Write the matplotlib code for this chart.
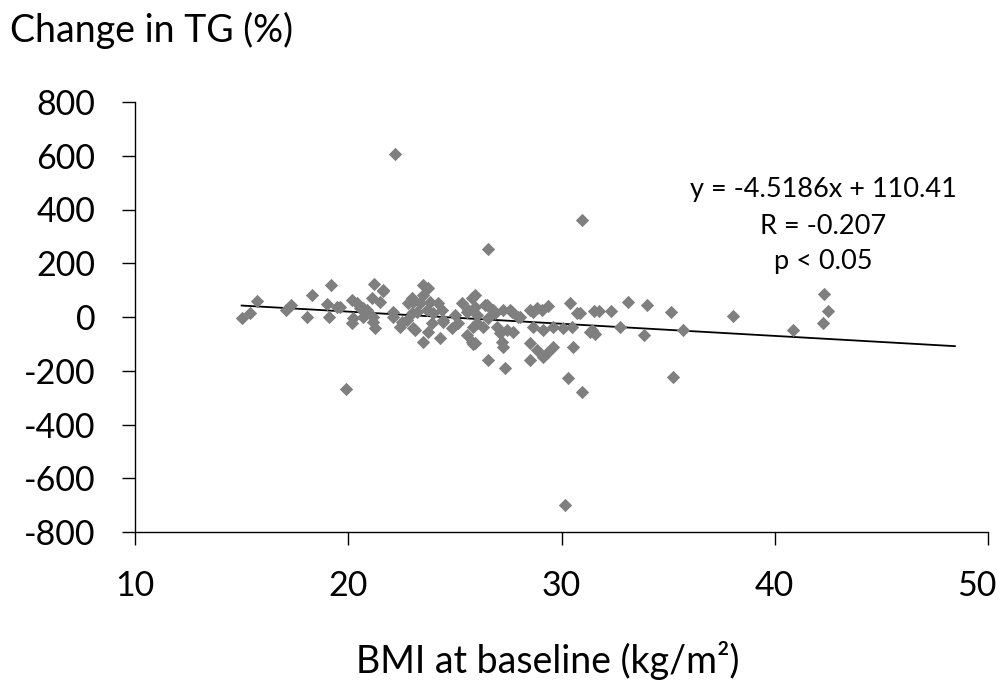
import matplotlib
matplotlib.use("Agg")
import matplotlib.pyplot as plt
import matplotlib.transforms as mtransforms
import numpy as np

plt.rcParams['font.family'] = ['Lato', 'DejaVu Sans']

bmi = [15.0, 15.4, 15.7, 17.1, 17.3, 18.05, 18.3, 18.99, 19.11, 19.2, 19.46, 19.61, 19.89,
       20.16, 20.16, 20.24, 20.4, 20.55, 20.71, 20.71, 20.86, 21.1, 21.18, 21.18, 21.22, 21.25,
       21.49, 21.64, 21.64, 22.11, 22.11, 22.2, 22.43, 22.51, 22.74, 22.82, 22.97, 22.97, 23.05,
       23.05, 23.13, 23.21, 23.36, 23.52, 23.52, 23.52, 23.68, 23.75, 23.75, 23.83, 23.91, 23.99,
       24.22, 24.3, 24.38, 24.46, 24.46, 24.85, 25.01, 25.16, 25.32, 25.55, 25.55, 25.6, 25.79,
       25.79, 25.84, 25.87, 25.94, 25.94, 25.94, 26.02, 26.02, 26.33, 26.41, 26.49, 26.57, 26.57,
       26.57, 26.8, 26.88, 26.96, 27.12, 27.2, 27.27, 27.27, 27.35, 27.43, 27.58, 27.66, 27.74,
       27.97, 28.05, 28.52, 28.52, 28.52, 28.68, 28.68, 28.84, 28.84, 29.07, 29.15, 29.15, 29.3,
       29.38, 29.62, 29.62, 30.08, 30.16, 30.32, 30.4, 30.48, 30.55, 30.71, 30.87, 30.95, 30.96,
       31.34, 31.41, 31.52, 31.57, 31.77, 32.31, 32.74, 33.1, 33.87, 33.99, 35.13, 35.24, 35.68,
       38.06, 40.87, 42.25, 42.31, 42.48]
tg = [-5, 16, 58, 26, 46, -1, 83, 48, -1, 118, 36, 38, -269,
      63, -24, -5, 51, 32, 1, 32, 26, 70, 1, -17, 123, -42,
      57, 100, 98, 1, 20, 605, -36, -17, -11, 51, 70, 14, 57,
      -42, -48, 20, 51, 119, 82, -92, 26, 107, -55, 57, -24, 14,
      51, -79, 26, -11, -17, -42, 7, -24, 51, 20, -67, 26, 70,
      -92, -100, -36, 82, 38, -98, -24, 7, -36, 45, 45, 252, -2,
      -160, 26, 14, -36, -61, -92, 26, -110, -191, -48, 26, 20, -55,
      1, 1, 26, -98, -160, 20, -36, 32, -123, 26, -48, -148, -135,
      41, -36, -110, -42, -700, -228, 51, -36, -113, 16, 16, -280, 361,
      -55, -48, 22, -63, 22, 22, -36, 57, -66, 45, 17, -224, -48,
      4, -48, -21, 84, 24]

slope, intercept = -4.5186, 110.41
line_x = [15.0, 48.45]
eq_lines = ["y = -4.5186x + 110.41", "R = -0.207", "p < 0.05"]
x_ticks = [10, 20, 30, 40, 50]
y_ticks = [-800, -600, -400, -200, 0, 200, 400, 600, 800]

fig = plt.figure(figsize=(10.04, 6.81), dpi=100)
ax = fig.add_axes([135/1004, 1-532/681, (988-135)/1004, (532-102)/681])

ax.scatter(bmi, tg, marker='D', s=46, color='#7f7f7f', linewidths=0, zorder=3)
lx = np.array(line_x)
ax.plot(lx, slope*lx + intercept, color='black', lw=1.3, zorder=2)

ax.set_xlim(10, 50)
ax.set_ylim(-800, 800)
ax.set_xticks(x_ticks)
ax.set_yticks(y_ticks)
ax.set_yticklabels([str(v) for v in y_ticks])
for s in ['top', 'right']:
    ax.spines[s].set_visible(False)
for s in ['left', 'bottom']:
    ax.spines[s].set_color('black')
    ax.spines[s].set_linewidth(1.0)
ax.tick_params(axis='both', direction='out', length=9.5, width=1.0, labelsize=24.5, colors='black')
ax.tick_params(axis='x', pad=18)
ax.tick_params(axis='y', pad=19)

# shift last x tick label inward (as in the reference) so it fits the canvas
last = ax.get_xticklabels()[-1]
last.set_transform(last.get_transform() + mtransforms.ScaledTranslation(-8/72, 0, fig.dpi_scale_trans))

fig.text(10/1004, 1-30/681, "Change in TG (%)", fontsize=27, ha='left', va='center')
fig.text(548/1004, 1-660/681, "BMI at baseline (kg/m²)", fontsize=27, ha='center', va='center')

for i, t in enumerate(eq_lines):
    fig.text(823/1004, 1-(190+36*i)/681, t, fontsize=19.5, ha='center', va='center')

fig.savefig("out.png", dpi=100)
